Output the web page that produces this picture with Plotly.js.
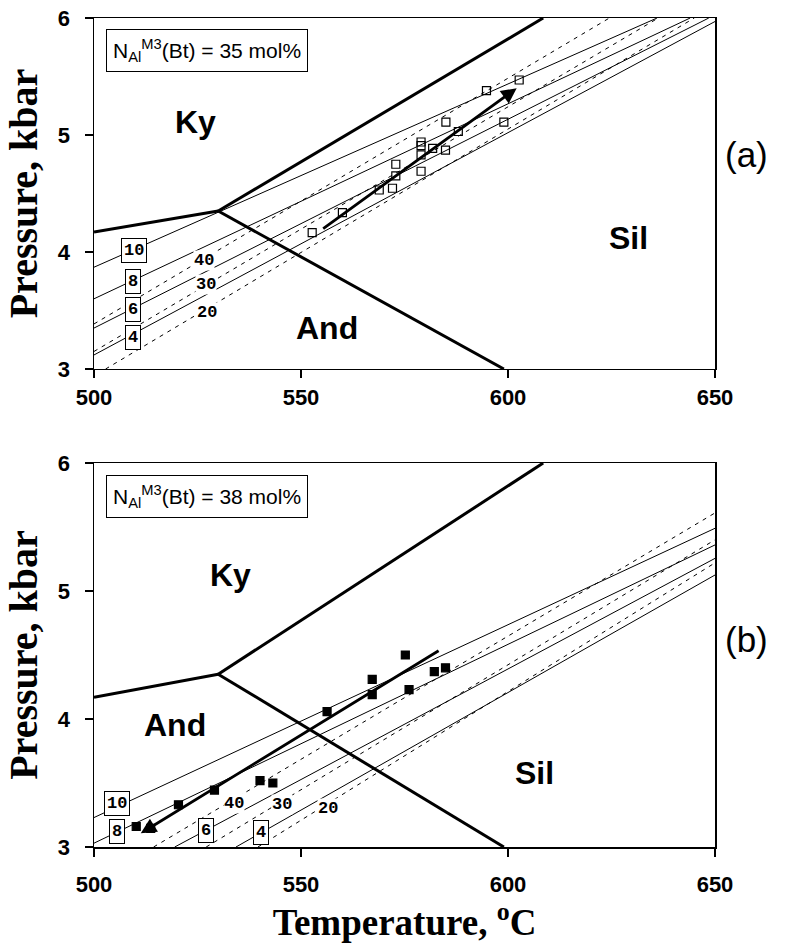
<!DOCTYPE html>
<html><head><meta charset="utf-8">
<script src="https://cdn.plot.ly/plotly-3.0.1.min.js"></script>
<style>body{margin:0;background:#fff}</style>
</head><body>
<div id="chart" style="width:808px;height:951px"></div>
<script>
// ---- Al2SiO5 phase boundaries (T in °C, P in kbar) ----
const kyAndT = [500, 530];
const kyAndP = [4.17, 4.35];
const kySilT = [530, 608.5];
const kySilP = [4.35, 6.0];
const andSilT = [530, 599];
const andSilP = [4.35, 3.0];

// ---- Panel (a): isopleths ----
const solidLabels = ['10', '8', '6', '4'];
const aSolidT = [[500, 636], [500, 644], [500, 648.5], [500, 650]];
const aSolidP = [[3.87, 6.0], [3.60, 6.0], [3.35, 6.0], [3.12, 5.97]];
const dashLabels = ['40', '30', '20'];
const aDashT = [[500, 624.5], [500, 636.3], [502.8, 645]];
const aDashP = [[3.385, 6.0], [3.15, 6.0], [3.0, 6.0]];
const aBoxT = [509.7, 509.4, 509.4, 509.4];
const aBoxP = [4.017, 3.75, 3.51, 3.27];
const aDashLabT = [526.6, 527.0, 527.4];
const aDashLabP = [3.93, 3.72, 3.48];

// ---- Panel (a): samples (open squares) and trend arrow ----
const aT = [552.7, 560.0, 568.9, 572.1, 572.9, 572.9, 579.0, 579.0, 579.0, 579.0, 581.8, 584.9, 585.0, 588.0, 594.8, 599.0, 602.7];
const aP = [4.165, 4.336, 4.53, 4.545, 4.75, 4.65, 4.94, 4.91, 4.83, 4.69, 4.885, 4.87, 5.11, 5.03, 5.38, 5.11, 5.47];
const aArrowT = [555.0, 602.1];
const aArrowP = [4.19, 5.40];

// ---- Panel (b): isopleths ----
const bSolidT = [[500, 650], [500, 650], [519.5, 650], [534.3, 650]];
const bSolidP = [[3.23, 5.49], [3.03, 5.36], [3.0, 5.255], [3.0, 5.125]];
const bDashT = [[514.4, 650], [527.1, 650], [539.6, 650]];
const bDashP = [[3.0, 5.61], [3.0, 5.40], [3.0, 5.22]];
const bBoxT = [505.6, 505.6, 527.0, 540.3];
const bBoxP = [3.34, 3.12, 3.13, 3.11];
const bDashLabT = [533.8, 545.5, 556.4];
const bDashLabP = [3.34, 3.33, 3.30];

// ---- Panel (b): samples (filled squares) and trend arrow ----
const bT = [510.2, 513.7, 520.4, 529.1, 540.1, 543.2, 556.3, 567.2, 567.2, 575.2, 576.1, 582.2, 584.9];
const bP = [3.16, 3.146, 3.33, 3.445, 3.518, 3.50, 4.057, 4.31, 4.19, 4.50, 4.23, 4.37, 4.40];
const bArrowT = [583.6, 511.3];
const bArrowP = [4.54, 3.107];

// ---- labels ----
const regionNames = ['Ky', 'And', 'Sil'];
const aRegionT = [524.4, 556.2, 629.1];
const aRegionP = [5.11, 3.35, 4.12];
const bRegionT = [532.9, 519.6, 606.5];
const bRegionP = [5.125, 3.95, 3.576];
const noteTexts = ['N<sub>Al</sub><sup>M3</sup>(Bt) = 35 mol%', 'N<sub>Al</sub><sup>M3</sup>(Bt) = 38 mol%'];
const panelTags = ['(a)', '(b)'];
const xTicks = [500, 550, 600, 650];
const yTicks = [3, 4, 5, 6];

const traces = [];
const annotations = [];

function addPanel(xa, ya, solidT, solidP, dashT, dashP, boxT, boxP, dLabT, dLabP,
                  ptsT, ptsP, filled, arrT, arrP, regT, regP, note, tag, tagY) {
  const bw = {color: '#000', width: 3};
  [[kyAndT, kyAndP], [kySilT, kySilP], [andSilT, andSilP]].forEach(([t, p]) => {
    traces.push({x: t, y: p, xaxis: xa, yaxis: ya, mode: 'lines', line: bw, hoverinfo: 'skip'});
  });
  solidT.forEach((t, i) => traces.push({x: t, y: solidP[i], xaxis: xa, yaxis: ya, mode: 'lines',
    line: {color: '#000', width: 1}, hoverinfo: 'skip'}));
  dashT.forEach((t, i) => traces.push({x: t, y: dashP[i], xaxis: xa, yaxis: ya, mode: 'lines',
    line: {color: '#000', width: 1, dash: '4px,5px'}, hoverinfo: 'skip'}));
  traces.push({x: ptsT, y: ptsP, xaxis: xa, yaxis: ya, mode: 'markers',
    marker: {symbol: filled ? 'square' : 'square-open', size: 8, color: '#000',
             line: {color: '#000', width: 1.2}}});
  // trend arrow
  annotations.push({x: arrT[1], y: arrP[1], ax: arrT[0], ay: arrP[0], xref: xa, yref: ya,
    axref: xa, ayref: ya, text: '', showarrow: true, arrowhead: 2, arrowsize: 1.1,
    arrowwidth: 2.8, arrowcolor: '#000', standoff: 0});
  // solid isopleth boxes
  boxT.forEach((t, i) => annotations.push({x: t, y: boxP[i], xref: xa, yref: ya, text: solidLabels[i],
    showarrow: false, bgcolor: '#fff', bordercolor: '#000', borderwidth: 1, borderpad: 2,
    font: {family: 'Liberation Mono', size: 17, weight: 'bold', color: '#000'}}));
  dLabT.forEach((t, i) => annotations.push({x: t, y: dLabP[i], xref: xa, yref: ya, text: dashLabels[i],
    showarrow: false, bgcolor: '#fff', borderpad: 0,
    font: {family: 'Liberation Mono', size: 17, weight: 'bold', color: '#000'}}));
  regT.forEach((t, i) => annotations.push({x: t, y: regP[i], xref: xa, yref: ya, text: regionNames[i],
    showarrow: false, font: {family: 'Liberation Sans', size: 32, weight: 'bold', color: '#000'}}));
  annotations.push({x: 0.019, y: 0.968, xref: xa + ' domain', yref: ya + ' domain',
    xanchor: 'left', yanchor: 'top', text: note, showarrow: false, bgcolor: '#fff',
    bordercolor: '#000', borderwidth: 1, borderpad: 6,
    font: {family: 'Liberation Sans', size: 21, color: '#000'}});
  annotations.push({x: 1.05, y: tagY, xref: 'paper', yref: 'paper', text: tag, showarrow: false,
    xanchor: 'center', yanchor: 'middle', font: {family: 'Liberation Sans', size: 35, color: '#000'}});
}

addPanel('x', 'y', aSolidT, aSolidP, aDashT, aDashP, aBoxT, aBoxP, aDashLabT, aDashLabP,
         aT, aP, false, aArrowT, aArrowP, aRegionT, aRegionP, noteTexts[0], panelTags[0], 0.835);
addPanel('x2', 'y2', bSolidT, bSolidP, bDashT, bDashP, bBoxT, bBoxP, bDashLabT, bDashLabP,
         bT, bP, true, bArrowT, bArrowP, bRegionT, bRegionP, noteTexts[1], panelTags[1], 0.25);

const tickFont = {family: 'Liberation Sans', size: 22, weight: 'bold', color: '#000'};
function xAxis(anchor, withTitle, labelStandoff) {
  const ax = {domain: [0, 1], range: [500, 650], anchor: anchor, tickvals: xTicks,
    showgrid: false, zeroline: false, showline: true, mirror: true, linecolor: '#000', linewidth: 1.5,
    ticks: 'outside', ticklen: 8, tickwidth: 1.5, tickcolor: '#000', tickfont: tickFont,
    ticklabelstandoff: labelStandoff};
  if (withTitle) ax.title = {text: 'Temperature, <sup>o</sup>C',
    font: {family: 'Liberation Serif', size: 37, weight: 'bold', color: '#000'}, standoff: 2};
  return ax;
}
function yAxis(anchor, domain) {
  return {domain: domain, range: [3, 6], anchor: anchor, tickvals: yTicks,
    showgrid: false, zeroline: false, showline: true, mirror: true, linecolor: '#000', linewidth: 1.5,
    ticks: 'outside', ticklen: 8, tickwidth: 1.5, tickcolor: '#000', tickfont: tickFont, ticklabelstandoff: 10,
    title: {text: 'Pressure, kbar', font: {family: 'Liberation Serif', size: 40, weight: 'bold', color: '#000'},
            standoff: 8}};
}

const layout = {
  width: 808, height: 951,
  margin: {l: 94, r: 93, t: 18, b: 104},
  paper_bgcolor: '#fff', plot_bgcolor: '#fff',
  showlegend: false,
  xaxis: xAxis('y', false, 0),
  yaxis: yAxis('x', [0.5766, 1]),
  xaxis2: xAxis('y2', true, 9),
  yaxis2: yAxis('x2', [0, 0.4632]),
  annotations: annotations
};

Plotly.newPlot('chart', traces, layout, {displayModeBar: false, staticPlot: true});
</script>
</body></html>
